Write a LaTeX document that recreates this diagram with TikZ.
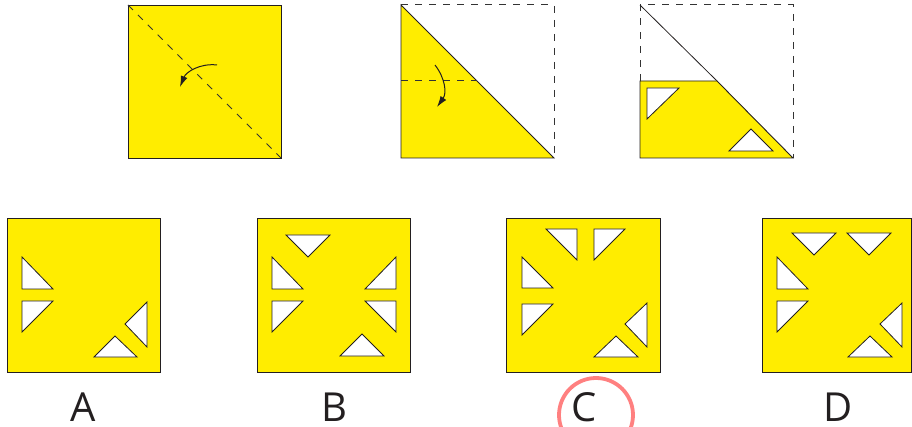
\documentclass[tikz,border=0pt]{standalone}
\usepackage{fontspec}
\setsansfont{Open Sans}
\usetikzlibrary{arrows.meta}
\definecolor{paper}{HTML}{FFED00}
\definecolor{edge}{HTML}{231F20}
\definecolor{foldline}{HTML}{333333}
\definecolor{ringred}{HTML}{FF8080}
\tikzset{
  sheet/.style={fill=paper, draw=edge, line width=0.9pt},
  hole/.style={fill=white, draw=edge, line width=0.8pt, line join=miter},
  foldmark/.style={draw=foldline, line width=1pt, dash pattern=on 7pt off 7pt},
  turnarrow/.style={-{Latex[length=11pt, width=7pt]}, line width=1pt, draw=edge},
  choice/.style={font=\sffamily\fontsize{40}{40}\selectfont, text=edge, inner sep=0pt, anchor=base}
}
\begin{document}
\begin{tikzpicture}[x=1pt, y=-1pt]
\useasboundingbox (0,0) rectangle (912,427);

% step 1: whole sheet, fold along the diagonal
\draw[sheet] (128,5) rectangle (281,158);
\draw[foldmark] (128,5) -- (281,158);
\draw[turnarrow] (217,65) .. controls (200,63) and (186,72) .. (180,87);

% step 2: triangle, fold again
\draw[sheet] (401,5) -- (554,158) -- (401,158) -- cycle;
\draw[foldmark] (401,5) -- (554,5) -- (554,158);
\draw[foldmark] (401,81) -- (477,81);
\draw[turnarrow] (435,65) .. controls (445,78) and (447,93) .. (437,107);

% step 3: folded sheet with cuts
\draw[foldmark] (640,81) -- (640,5) -- (793,5) -- (793,158);
\draw[edge, line width=0.8pt] (640,5) -- (717,81);
\draw[sheet] (640,81) -- (717,81) -- (793,158) -- (640,158) -- cycle;
\draw[hole] (647,88) -- (679,88) -- (647,119) -- cycle;
\draw[hole] (729,151) -- (773,151) -- (751,129) -- cycle;

% answer A
\begin{scope}[shift={(7,218)}]
  \draw[sheet] (0,0) rectangle (153,154);
  \draw[hole] (15,39) -- (15,71) -- (46,71) -- cycle;
  \draw[hole] (15,83) -- (46,83) -- (15,114) -- cycle;
  \draw[hole] (140,84) -- (140,129) -- (118,106) -- cycle;
  \draw[hole] (87,139) -- (130,139) -- (108,118) -- cycle;
\end{scope}

% answer B
\begin{scope}[shift={(257,218)}]
  \draw[sheet] (0,0) rectangle (153,154);
  \draw[hole] (29,17) -- (73,17) -- (51,39) -- cycle;
  \draw[hole] (15,39) -- (15,71) -- (46,71) -- cycle;
  \draw[hole] (15,83) -- (46,83) -- (15,114) -- cycle;
  \draw[hole] (139,39) -- (139,71) -- (108,71) -- cycle;
  \draw[hole] (108,83) -- (139,83) -- (139,114) -- cycle;
  \draw[hole] (83,138) -- (127,138) -- (105,116) -- cycle;
\end{scope}

% answer C
\begin{scope}[shift={(506,218)}]
  \draw[sheet] (0,0) rectangle (154,154);
  \draw[hole] (40,11) -- (71,11) -- (71,42) -- cycle;
  \draw[hole] (88,11) -- (119,11) -- (88,42) -- cycle;
  \draw[hole] (16,39) -- (16,70) -- (47,70) -- cycle;
  \draw[hole] (16,86) -- (47,86) -- (16,117) -- cycle;
  \draw[hole] (141,85) -- (141,129) -- (119,106) -- cycle;
  \draw[hole] (88,139) -- (132,139) -- (110,118) -- cycle;
\end{scope}

% answer D
\begin{scope}[shift={(762,218)}]
  \draw[sheet] (0,0) rectangle (149.5,154);
  \draw[hole] (30,15) -- (74,15) -- (52,37) -- cycle;
  \draw[hole] (85,15) -- (129,15) -- (107,37) -- cycle;
  \draw[hole] (15,39) -- (15,71) -- (46,71) -- cycle;
  \draw[hole] (15,83) -- (46,83) -- (15,114) -- cycle;
  \draw[hole] (140,85) -- (140,129) -- (118,106) -- cycle;
  \draw[hole] (86,139) -- (130,139) -- (108,118) -- cycle;
\end{scope}

% labels
\node[choice] (labA) at (83,421) {A};
\node[choice] (labB) at (334,421) {B};
\node[choice] (labC) at (584,421) {C};
\node[choice] (labD) at (838,421) {D};

% picked answer
\draw[ringred, line width=3.8pt] (596,415) circle (37);

\end{tikzpicture}
\end{document}
